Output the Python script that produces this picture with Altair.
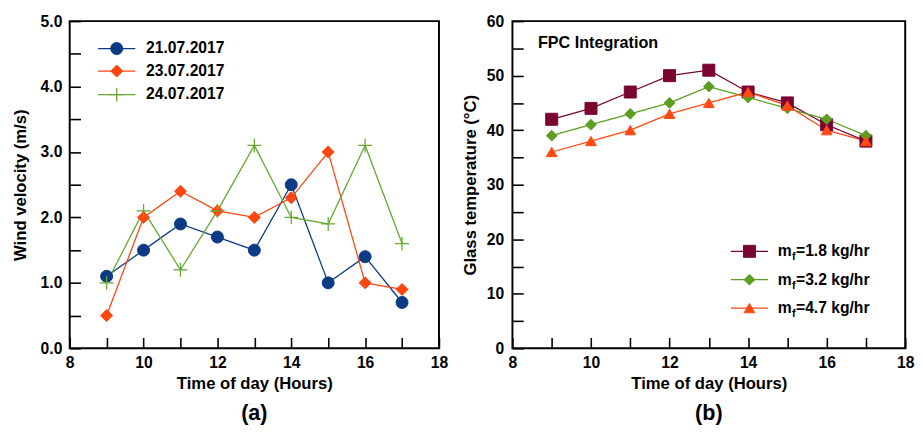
import altair as alt
import pandas as pd

# ---------------- data ----------------
hours = [9, 10, 11, 12, 13, 14, 15, 16, 17]

dates = ["21.07.2017", "23.07.2017", "24.07.2017"]
wind_2107 = [1.1, 1.5, 1.9, 1.7, 1.5, 2.5, 1.0, 1.4, 0.7]
wind_2307 = [0.5, 2.0, 2.4, 2.1, 2.0, 2.3, 3.0, 1.0, 0.9]
wind_2407 = [1.0, 2.1, 1.2, 2.1, 3.1, 2.0, 1.9, 3.1, 1.6]

flows = ["1.8", "3.2", "4.7"]
temp_18 = [42, 44, 47, 50, 51, 47, 45, 41, 38]
temp_32 = [39, 41, 43, 45, 48, 46, 44, 42, 39]
temp_47 = [36, 38, 40, 43, 45, 47, 44.5, 40, 38]

# tick positions (labels shown on every second one)
x_ticks = [8, 9, 10, 11, 12, 13, 14, 15, 16, 17, 18]
ya_ticks = [0, 0.5, 1, 1.5, 2, 2.5, 3, 3.5, 4, 4.5, 5]
yb_ticks = [0, 5, 10, 15, 20, 25, 30, 35, 40, 45, 50, 55, 60]

# ---------------- style ----------------
FONT = "Liberation Sans"
H = 334
WA, WB = 377, 401
TICK = 11  # inward tick length

CROSS = "M-1,0L1,0M0,-1L0,1"

style_a = [
    dict(color="#0c3b86", shape="circle", size=150, filled=True, strokeWidth=1),
    dict(color="#ff4610", shape="diamond", size=150, filled=True, strokeWidth=1),
    dict(color="#66a832", shape=CROSS, size=200, filled=False, strokeWidth=1.3),
]
style_b = [
    dict(color="#7a0530", shape="square", size=150, filled=True, strokeWidth=1),
    dict(color="#5c9e22", shape="diamond", size=120, filled=True, strokeWidth=1),
    dict(color="#ff4a14", shape="triangle-up", size=120, filled=True, strokeWidth=1),
]


def series_layers(series_vals, styles, X, Y):
    layers = []
    for vals, st in zip(series_vals, styles):
        df = pd.DataFrame({"hour": hours, "value": vals})
        layers.append(alt.Chart(df).mark_line(color=st["color"], strokeWidth=1.3).encode(x=X, y=Y))
    for vals, st in zip(series_vals, styles):
        df = pd.DataFrame({"hour": hours, "value": vals})
        pt = dict(shape=st["shape"], size=st["size"], opacity=1, strokeWidth=st["strokeWidth"])
        if st["filled"]:
            mk = alt.Chart(df).mark_point(filled=True, fill=st["color"], stroke=st["color"], **pt)
        else:
            mk = alt.Chart(df).mark_point(filled=False, stroke=st["color"], **pt)
        layers.append(mk.encode(x=X, y=Y))
    return layers


def legend_layers(labels, styles, x0, x1, rows, text_x, subscript=False):
    layers = []
    for lab, st, ly in zip(labels, styles, rows):
        one = pd.DataFrame({"label": [lab]})
        base = alt.Chart(one)
        layers.append(base.mark_rule(color=st["color"], strokeWidth=1.3).encode(
            x=alt.value(x0), x2=alt.value(x1), y=alt.value(ly)))
        pt = dict(shape=st["shape"], size=st["size"], opacity=1, strokeWidth=st["strokeWidth"])
        if st["filled"]:
            mk = base.mark_point(filled=True, fill=st["color"], stroke=st["color"], **pt)
        else:
            mk = base.mark_point(filled=False, stroke=st["color"], **pt)
        layers.append(mk.encode(x=alt.value((x0 + x1) / 2), y=alt.value(ly)))
        tx = dict(font=FONT, fontWeight="bold", color="black", align="left", baseline="middle")
        if subscript:
            layers.append(base.mark_text(fontSize=16, **tx).encode(
                x=alt.value(text_x), y=alt.value(ly), text=alt.value("m")))
            layers.append(base.mark_text(fontSize=11, dx=14.5, dy=6, **tx).encode(
                x=alt.value(text_x), y=alt.value(ly), text=alt.value("f")))
            layers.append(base.mark_text(fontSize=16, dx=18.5, **tx).encode(
                x=alt.value(text_x), y=alt.value(ly), text="label:N"))
        else:
            layers.append(base.mark_text(fontSize=16, **tx).encode(
                x=alt.value(text_x), y=alt.value(ly), text="label:N"))
    return layers


def panel_title(txt):
    return alt.TitleParams(txt, orient="bottom", anchor="middle", frame="group",
                           font=FONT, fontSize=22, fontWeight="bold", color="black", offset=12)


def x_axis():
    # inward ticks (negative size through an expression); labels on even hours only
    return alt.Axis(values=x_ticks, title="Time of day (Hours)",
                    labelExpr="datum.value % 2 === 0 ? datum.label : ''",
                    ticks=True, tickSize={"expr": str(-TICK)}, tickColor="black", tickWidth=1.6,
                    labelPadding=7 + TICK, titlePadding=5, labelFlush=False, labelOverlap=False)


def y_axis(title, vals, major, pad, tpad):
    return alt.Axis(values=vals, title=title,
                    labelExpr="datum.value %% %s === 0 ? datum.label : ''" % major,
                    ticks=True, tickSize={"expr": str(-TICK)}, tickColor="black", tickWidth=1.6,
                    labelPadding=pad + TICK, titlePadding=tpad, labelFlush=False, labelOverlap=False)


# ---------------- panel (a) ----------------
xs = alt.Scale(domain=[8, 18], nice=False, zero=False)
ys_a = alt.Scale(domain=[0, 5], nice=False)
Xa = alt.X("hour:Q", scale=xs, axis=x_axis())
Ya = alt.Y("value:Q", scale=ys_a, axis=y_axis("Wind velocity (m/s)", ya_ticks, 1, 8, 11))

layers_a = (series_layers([wind_2107, wind_2307, wind_2407], style_a, Xa, Ya)
            + legend_layers(dates, style_a, 29, 67, [28, 51, 75], 78))
panel_a = alt.layer(*layers_a).properties(width=WA, height=H, title=panel_title("(a)"))

# ---------------- panel (b) ----------------
ys_b = alt.Scale(domain=[0, 60], nice=False)
Xb = alt.X("hour:Q", scale=xs, axis=x_axis())
Yb = alt.Y("value:Q", scale=ys_b, axis=y_axis("Glass temperature (°C)", yb_ticks, 10, 9, 7))

fpc = alt.Chart(pd.DataFrame({"label": ["FPC Integration"]})).mark_text(
    font=FONT, fontSize=16.5, fontWeight="bold", color="black", align="left", baseline="middle"
).encode(x=alt.value(26), y=alt.value(22), text="label:N")

flow_labels = ["=" + f + " kg/hr" for f in flows]
layers_b = (series_layers([temp_18, temp_32, temp_47], style_b, Xb, Yb)
            + legend_layers(flow_labels, style_b, 223, 261, [235, 264, 293], 271, subscript=True)
            + [fpc])
panel_b = alt.layer(*layers_b).properties(width=WB, height=H, title=panel_title("(b)"))

chart = alt.hconcat(panel_a, panel_b, spacing=12).properties(
    padding={"left": 2, "top": 0, "right": 0, "bottom": 0}, background="white"
).configure_view(stroke="black", strokeWidth=2).configure_axis(
    labelFont=FONT, labelFontSize=16, labelFontWeight="bold", labelColor="black",
    titleFont=FONT, titleFontSize=17, titleFontWeight="bold", titleColor="black",
    domain=False, grid=False
)

chart.save("out.html", embed_options={"renderer": "svg", "actions": False})
